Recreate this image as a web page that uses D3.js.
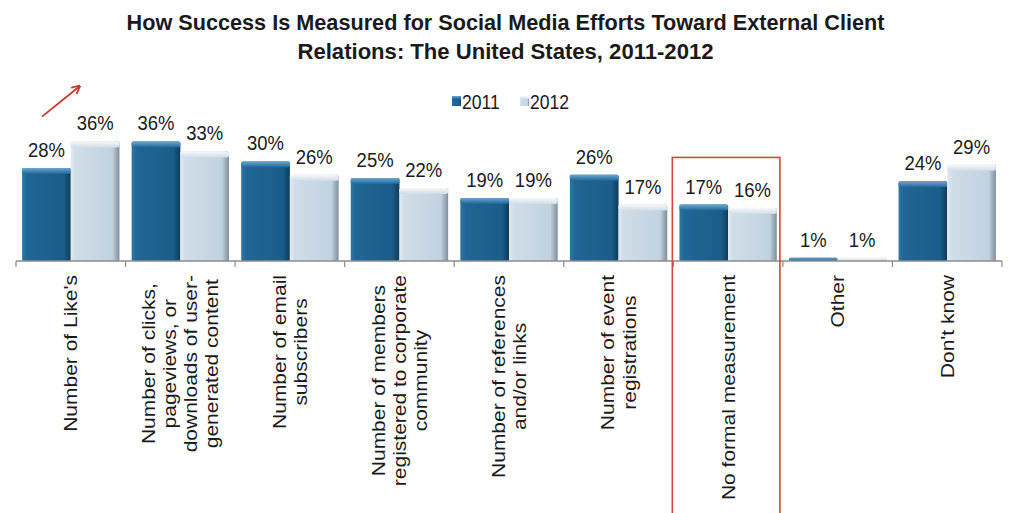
<!DOCTYPE html>
<html>
<head>
<meta charset="utf-8">
<script src="https://cdn.jsdelivr.net/npm/d3@7"></script>
<style>
  body { margin: 0; background: #fff; }
  text { font-family: Arial, "Liberation Sans", sans-serif; fill: #1a1a1a; }
</style>
</head>
<body>
<div id="chart"></div>
<script>
// Data
const categories = ["Likes", "Clicks", "Email", "Members", "References", "Events", "NoFormal", "Other", "DontKnow"];
const categoryLabels = [
  ["Number of Like's"],
  ["Number of clicks,", "pageviews, or", "downloads of user-", "generated content"],
  ["Number of email", "subscribers"],
  ["Number of members", "registered to corporate", "community"],
  ["Number of references", "and/or links"],
  ["Number of event", "registrations"],
  ["No formal measurement"],
  ["Other"],
  ["Don't know"]
];
const seriesNames = ["2011", "2012"];
const values2011 = [28, 36, 30, 25, 19, 26, 17, 1, 24];
const values2012 = [36, 33, 26, 22, 19, 17, 16, 1, 29];
const titleLines = [
  "How Success Is Measured for Social Media Efforts Toward External Client",
  "Relations: The United States, 2011-2012"
];
const highlighted = "NoFormal";

function drawChart() {
  const W = 1011, H = 513;
  const squeeze = 0.88; // text in the picture is a little narrow

  const svg = d3.select("#chart").append("svg")
      .attr("width", W)
      .attr("height", H);

  // gradients for the bevelled bars
  const defs = svg.append("defs");
  function hGrad(id, stops) {
    const g = defs.append("linearGradient").attr("id", id)
        .attr("x1", "0%").attr("x2", "100%").attr("y1", "0%").attr("y2", "0%");
    stops.forEach(s => g.append("stop").attr("offset", s[0]).attr("stop-color", s[1]));
  }
  function vGrad(id, stops) {
    const g = defs.append("linearGradient").attr("id", id)
        .attr("x1", "0%").attr("x2", "0%").attr("y1", "0%").attr("y2", "100%");
    stops.forEach(s => g.append("stop").attr("offset", s[0]).attr("stop-color", s[1]));
  }
  hGrad("body2011", [["0%", "#2c78aa"], ["10%", "#1f6797"], ["85%", "#1b5d8a"], ["100%", "#103b58"]]);
  hGrad("body2012", [["0%", "#e1eaf1"], ["10%", "#cfdde8"], ["85%", "#c2d2de"], ["100%", "#7f8e99"]]);
  vGrad("top2011", [["0%", "#6aa8d2"], ["100%", "#1f6797"]]);
  vGrad("top2012", [["0%", "#f6f9fb"], ["100%", "#cfdde8"]]);

  // scales
  const x = d3.scaleBand()
      .domain(categories)
      .range([16, 1002])
      .padding(0);

  const xSub = d3.scaleBand()
      .domain(seriesNames)
      .range([0, x.bandwidth()])
      .paddingInner(0)
      .paddingOuter(0.125);

  const y = d3.scaleLinear()
      .domain([0, 40])
      .range([261, 128.2]);

  const data = categories.map((c, i) => ({
    key: c,
    values: [
      {series: "2011", value: values2011[i]},
      {series: "2012", value: values2012[i]}
    ]
  }));

  // title
  titleLines.forEach((t, i) => {
    svg.append("text")
        .attr("x", W / 2)
        .attr("y", 30 + i * 29)
        .attr("text-anchor", "middle")
        .attr("textLength", i === 0 ? 758 : 416)
        .attr("lengthAdjust", "spacingAndGlyphs")
        .style("font-size", "22px")
        .style("font-weight", "bold")
        .text(t);
  });

  // legend
  const legend = svg.append("g").attr("transform", "translate(452,100)");
  const legendX = [0, 68];
  seriesNames.forEach((s, i) => {
    const lg = legend.append("g").attr("transform", `translate(${legendX[i]},0)`);
    lg.append("rect")
        .attr("x", 0).attr("y", -4)
        .attr("width", 9).attr("height", 10)
        .attr("fill", `url(#body${s})`);
    lg.append("rect")
        .attr("x", 0).attr("y", -4)
        .attr("width", 9).attr("height", 3)
        .attr("fill", `url(#top${s})`);
    lg.append("text")
        .attr("transform", `translate(10,9) scale(${squeeze},1)`)
        .style("font-size", "20px")
        .text(s);
  });

  // bars
  const groups = svg.append("g").selectAll(".grp")
      .data(data)
      .enter()
      .append("g")
      .attr("class", "grp")
      .attr("transform", d => `translate(${x(d.key)},0)`);

  const bars = groups.selectAll(".bar")
      .data(d => d.values)
      .enter()
      .append("g")
      .attr("class", "bar");

  bars.append("rect")
      .attr("x", d => xSub(d.series))
      .attr("y", d => y(d.value))
      .attr("width", xSub.bandwidth())
      .attr("height", d => y(0) - y(d.value))
      .attr("rx", 1.5)
      .attr("fill", d => `url(#body${d.series})`);

  bars.append("rect")
      .attr("x", d => xSub(d.series))
      .attr("y", d => y(d.value))
      .attr("width", xSub.bandwidth())
      .attr("height", d => Math.min(6, y(0) - y(d.value)))
      .attr("rx", 2)
      .attr("fill", d => `url(#top${d.series})`);

  // value labels
  bars.append("text")
      .attr("transform", d => `translate(${xSub(d.series) + xSub.bandwidth() / 2},${y(d.value) - 11}) scale(${squeeze},1)`)
      .attr("text-anchor", "middle")
      .style("font-size", "21px")
      .text(d => d.value + "%");

  // axis line and ticks at the category boundaries
  const axis = svg.append("g").attr("transform", `translate(0,${y(0)})`);
  axis.append("line")
      .attr("x1", x.range()[0]).attr("x2", x.range()[1])
      .attr("stroke", "#8c8c8c").attr("stroke-width", 1.5);
  const bounds = categories.map(c => x(c)).concat([x.range()[1]]);
  axis.selectAll(".tick")
      .data(bounds)
      .enter()
      .append("line")
      .attr("x1", d => d).attr("x2", d => d)
      .attr("y1", 0).attr("y2", 6)
      .attr("stroke", "#8c8c8c").attr("stroke-width", 1.2);

  // rotated category labels
  const lineH = 24;
  const labels = svg.append("g").selectAll(".cat")
      .data(data)
      .enter()
      .append("g")
      .attr("class", "cat");

  labels.each(function(d, i) {
    const lines = categoryLabels[i];
    const g = d3.select(this)
        .attr("transform", `translate(${x(d.key) + x.bandwidth() / 2},275) scale(${squeeze},1) rotate(-90)`);
    const texts = g.selectAll("text")
        .data(lines)
        .enter()
        .append("text")
        .attr("text-anchor", "middle")
        .attr("dy", "0.35em")
        .style("font-size", "21px")
        .text(t => t);
    let longest = 0;
    texts.each(function() { longest = Math.max(longest, this.getComputedTextLength()); });
    texts.attr("x", -longest / 2)
        .attr("y", (t, j) => (j - (lines.length - 1) / 2) * lineH);
  });

  // red highlight box round "No formal measurement"
  svg.append("rect")
      .attr("x", x(highlighted) - 1)
      .attr("y", y(31.2))
      .attr("width", x.bandwidth() - 2)
      .attr("height", H - y(31.2) + 4)
      .attr("fill", "none")
      .attr("stroke", "#d2473d")
      .attr("stroke-width", 1.6);

  // red arrow above the first group
  defs.append("marker")
      .attr("id", "arrowHead")
      .attr("viewBox", "0 0 10 10")
      .attr("refX", 8).attr("refY", 5)
      .attr("markerWidth", 5).attr("markerHeight", 5)
      .attr("orient", "auto")
      .append("path")
      .attr("d", "M0,0 L10,5 L0,10")
      .attr("fill", "none")
      .attr("stroke", "#c8372d")
      .attr("stroke-width", 2);

  const x0 = x(categories[0]);
  svg.append("line")
      .attr("x1", x0 + 26).attr("y1", y(43.5))
      .attr("x2", x0 + 63).attr("y2", y(52.5))
      .attr("stroke", "#c8372d")
      .attr("stroke-width", 1.8)
      .attr("marker-end", "url(#arrowHead)");
}

document.addEventListener("DOMContentLoaded", drawChart);
</script>
</body>
</html>
